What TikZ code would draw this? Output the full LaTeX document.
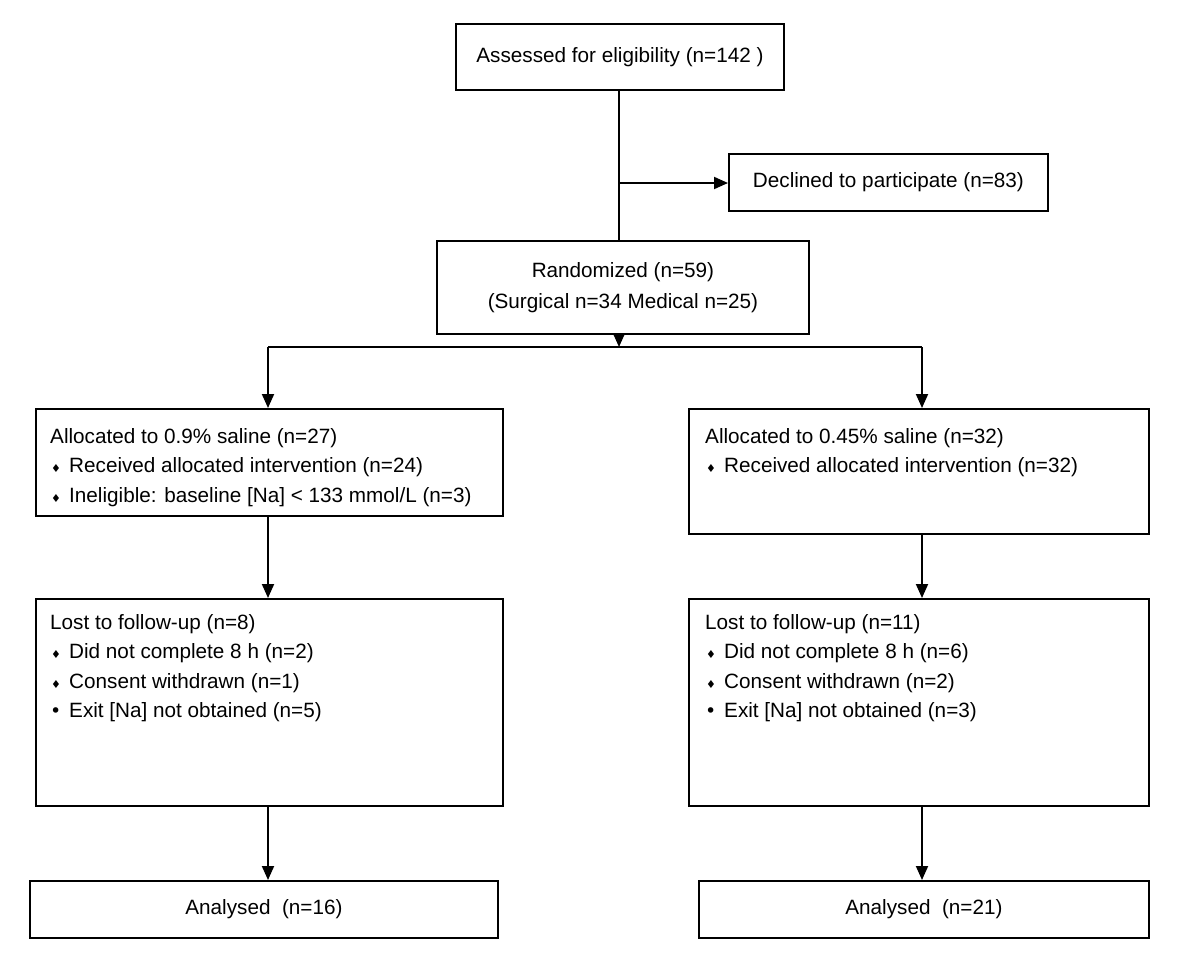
\documentclass[tikz,border=0pt]{standalone}
\usepackage{fontspec}
\setmainfont{Liberation Sans}
\newfontfamily\dejavu{DejaVu Sans}
\usetikzlibrary{arrows.meta}
\newcommand\dm{\makebox[19pt][l]{\hspace{1pt}{\dejavu\fontsize{11}{11}\selectfont ♦}}}
\newcommand\bl{\makebox[19pt][l]{\hspace{0pt}{\dejavu\fontsize{19}{19}\selectfont •}}}
\begin{document}
\begin{tikzpicture}[x=1pt,y=-1pt,
  box/.style={draw, line width=1.9pt, inner sep=0pt, anchor=north west, align=center,
    font=\fontsize{20.7}{31}\selectfont},
  txt/.style={inner sep=0pt, anchor=north west, align=left, font=\fontsize{20.7}{29.5}\selectfont},
  line/.style={line width=1.9pt},
  arr/.style={line width=1.9pt, -{Triangle[length=14pt,width=12pt]}}]
\useasboundingbox (0,0) rectangle (1200,962);
\fill[white] (0,0) rectangle (1200,962);

% boxes
\node[box, minimum width=328pt, minimum height=66pt] (A) at (455,23) {Assessed for eligibility (n=142 )};
\node[box, minimum width=319pt, minimum height=57pt] (D) at (728,153) {Declined to participate (n=83)};
\node[box, minimum width=372pt, minimum height=93pt] (R) at (436,240) {Randomized (n=59)\\(Surgical n=34 Medical n=25)};
\node[box, minimum width=467pt, minimum height=107pt] (L1) at (35,408) {};
\node[box, minimum width=460pt, minimum height=125pt] (R1) at (688,408) {};
\node[box, minimum width=467pt, minimum height=207pt] (L2) at (35,598) {};
\node[box, minimum width=460pt, minimum height=207pt] (R2) at (688,598) {};
\node[box, minimum width=468pt, minimum height=57pt] (L3) at (29,880) {Analysed~~(n=16)};
\node[box, minimum width=450pt, minimum height=57pt] (R3) at (698,880) {Analysed~~(n=21)};

% box texts
\node[txt] (L1t) at ([xshift=15pt,yshift=-20pt]L1.north west)
  {Allocated to 0.9\% saline (n=27)\\\dm Received allocated intervention (n=24)\\\dm Ineligible: baseline [Na] < 133 mmol/L (n=3)};
\node[txt] (R1t) at ([xshift=17pt,yshift=-20pt]R1.north west)
  {Allocated to 0.45\% saline (n=32)\\\dm Received allocated intervention (n=32)};
\node[txt] (L2t) at ([xshift=15pt,yshift=-16pt]L2.north west)
  {Lost to follow-up (n=8)\\\dm Did not complete 8 h (n=2)\\\dm Consent withdrawn (n=1)\\\bl Exit [Na] not obtained (n=5)};
\node[txt] (R2t) at ([xshift=17pt,yshift=-16pt]R2.north west)
  {Lost to follow-up (n=11)\\\dm Did not complete 8 h (n=6)\\\dm Consent withdrawn (n=2)\\\bl Exit [Na] not obtained (n=3)};

% connectors
\coordinate (j) at (619,183);
\coordinate (hl) at (268,347);
\coordinate (hr) at (922,347);
\coordinate (hm) at (619,347);
\draw[line] (A.south -| j) -- (R.north -| j);
\draw[arr] (j) -- (D.west |- j);
\draw[arr] (R.south -| hm) -- (hm);
\draw[line] (hl) -- (hr);
\draw[arr] (hl) -- (hl |- L1.north);
\draw[arr] (hr) -- (hr |- R1.north);
\draw[arr] (L1.south -| hl) -- (L2.north -| hl);
\draw[arr] (R1.south -| hr) -- (R2.north -| hr);
\draw[arr] (L2.south -| hl) -- (L3.north -| hl);
\draw[arr] (R2.south -| hr) -- (R3.north -| hr);
\end{tikzpicture}
\end{document}
